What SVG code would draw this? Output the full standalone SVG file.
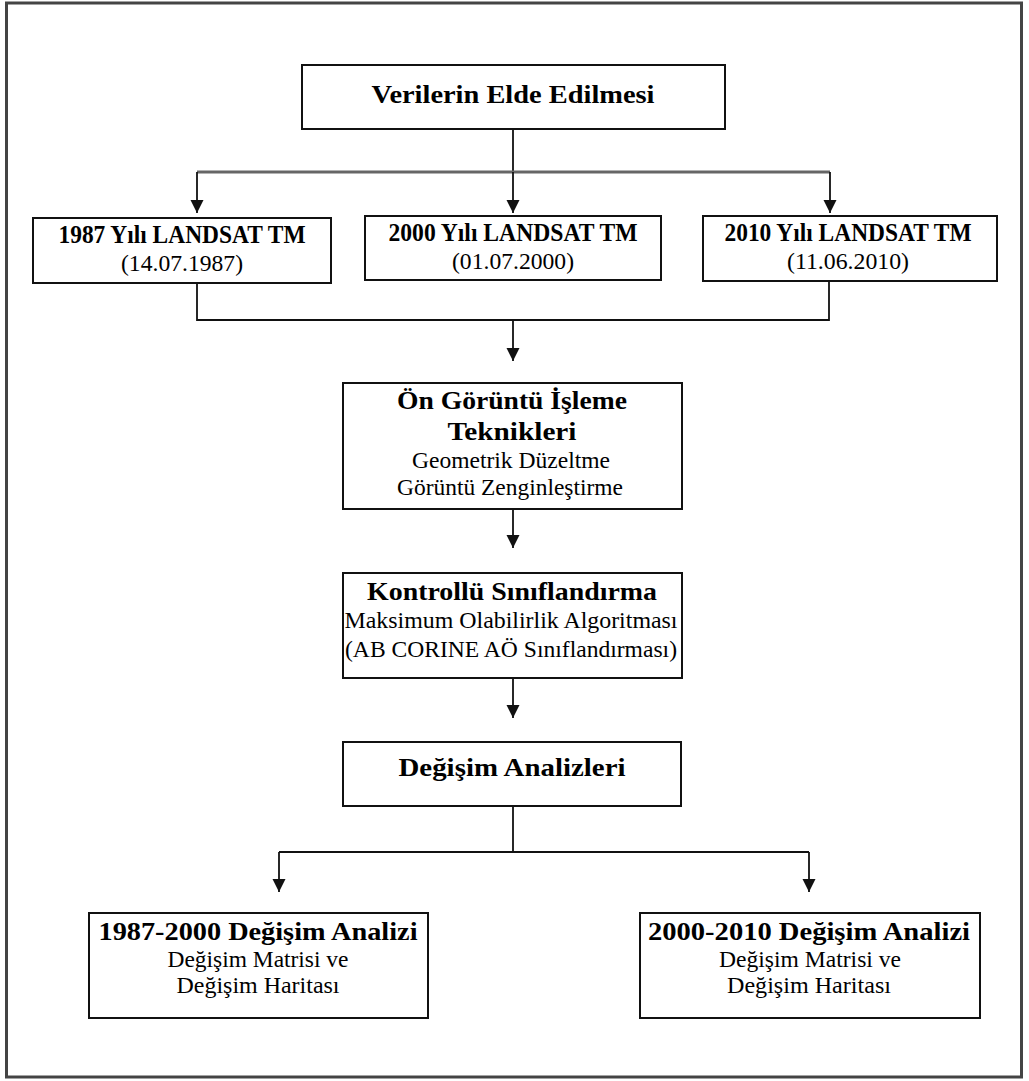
<svg xmlns="http://www.w3.org/2000/svg" width="1029" height="1081" viewBox="0 0 1029 1081">
  <style>
    .frame { fill: #fff; stroke: #444; stroke-width: 3; }
    .box { fill: #fff; stroke: #111; stroke-width: 2; }
    .link { fill: none; stroke: #111; stroke-width: 1.8; }
    .bus { fill: none; stroke: #666; stroke-width: 3; }
    .t { font-family: "Liberation Serif", "Times New Roman", serif; fill: #000; text-anchor: middle; }
    .b { font-weight: bold; font-size: 26px; }
    .n { font-size: 23px; }
  </style>
  <defs>
    <marker id="head" markerUnits="userSpaceOnUse" markerWidth="14" markerHeight="14" viewBox="0 0 14 14" refX="13" refY="7" orient="auto">
      <path d="M0,0.5 L13,7 L0,13.5 Z" fill="#111"/>
    </marker>
  </defs>

  <!-- outer frame -->
  <rect class="frame" x="6.5" y="3" width="1015" height="1074"/>

  <!-- connectors -->
  <g id="connectors">
    <path class="link" d="M513,129 V172"/>
    <path class="bus" d="M197,172 H830"/>
    <path class="link" d="M197,172 V213" marker-end="url(#head)"/>
    <path class="link" d="M513,172 V213" marker-end="url(#head)"/>
    <path class="link" d="M830,172 V213" marker-end="url(#head)"/>
    <path class="link" d="M197,283 V320 H829 V281"/>
    <path class="link" d="M513,320 V361" marker-end="url(#head)"/>
    <path class="link" d="M513,509 V548" marker-end="url(#head)"/>
    <path class="link" d="M513,678 V718" marker-end="url(#head)"/>
    <path class="link" d="M513,806 V852"/>
    <path class="link" d="M279,852 H809"/>
    <path class="link" d="M279,852 V892" marker-end="url(#head)"/>
    <path class="link" d="M809,852 V892" marker-end="url(#head)"/>
  </g>

  <g id="veri">
    <rect class="box" x="302" y="65" width="423" height="64"/>
    <text class="t b" x="513" y="103" textLength="283" lengthAdjust="spacingAndGlyphs">Verilerin Elde Edilmesi</text>
  </g>

  <g id="landsat1987">
    <rect class="box" x="33" y="218" width="298" height="65"/>
    <text class="t b" x="182" y="243" textLength="247" lengthAdjust="spacingAndGlyphs">1987 Yılı LANDSAT TM</text>
    <text class="t n" x="182" y="271" textLength="122" lengthAdjust="spacingAndGlyphs">(14.07.1987)</text>
  </g>

  <g id="landsat2000">
    <rect class="box" x="365" y="216" width="296" height="64"/>
    <text class="t b" x="513" y="241" textLength="249" lengthAdjust="spacingAndGlyphs">2000 Yılı LANDSAT TM</text>
    <text class="t n" x="513" y="269" textLength="122" lengthAdjust="spacingAndGlyphs">(01.07.2000)</text>
  </g>

  <g id="landsat2010">
    <rect class="box" x="703" y="216" width="294" height="65"/>
    <text class="t b" x="848" y="241" textLength="247" lengthAdjust="spacingAndGlyphs">2010 Yılı LANDSAT TM</text>
    <text class="t n" x="848" y="269" textLength="122" lengthAdjust="spacingAndGlyphs">(11.06.2010)</text>
  </g>

  <g id="on-isleme">
    <rect class="box" x="343" y="383" width="339" height="126"/>
    <text class="t b" x="512" y="409" textLength="230" lengthAdjust="spacingAndGlyphs">Ön Görüntü İşleme</text>
    <text class="t b" x="512" y="440" textLength="129" lengthAdjust="spacingAndGlyphs">Teknikleri</text>
    <text class="t n" x="511" y="468" textLength="198" lengthAdjust="spacingAndGlyphs">Geometrik Düzeltme</text>
    <text class="t n" x="510" y="495" textLength="226" lengthAdjust="spacingAndGlyphs">Görüntü Zenginleştirme</text>
  </g>

  <g id="siniflandirma">
    <rect class="box" x="343" y="573" width="339" height="105"/>
    <text class="t b" x="512" y="600" textLength="290" lengthAdjust="spacingAndGlyphs">Kontrollü Sınıflandırma</text>
    <text class="t n" x="511" y="628" textLength="333" lengthAdjust="spacingAndGlyphs">Maksimum Olabilirlik Algoritması</text>
    <text class="t n" x="511" y="657" textLength="332" lengthAdjust="spacingAndGlyphs">(AB CORINE AÖ Sınıflandırması)</text>
  </g>

  <g id="degisim">
    <rect class="box" x="343" y="742" width="338" height="64"/>
    <text class="t b" x="512" y="776" textLength="227" lengthAdjust="spacingAndGlyphs">Değişim Analizleri</text>
  </g>

  <g id="analiz-1987-2000">
    <rect class="box" x="89" y="913" width="339" height="105"/>
    <text class="t b" x="258" y="940" textLength="319" lengthAdjust="spacingAndGlyphs">1987-2000 Değişim Analizi</text>
    <text class="t n" x="258" y="967" textLength="181" lengthAdjust="spacingAndGlyphs">Değişim Matrisi ve</text>
    <text class="t n" x="258" y="993" textLength="163" lengthAdjust="spacingAndGlyphs">Değişim Haritası</text>
  </g>

  <g id="analiz-2000-2010">
    <rect class="box" x="640" y="913" width="340" height="105"/>
    <text class="t b" x="809" y="940" textLength="322" lengthAdjust="spacingAndGlyphs">2000-2010 Değişim Analizi</text>
    <text class="t n" x="810" y="967" textLength="182" lengthAdjust="spacingAndGlyphs">Değişim Matrisi ve</text>
    <text class="t n" x="809" y="993" textLength="164" lengthAdjust="spacingAndGlyphs">Değişim Haritası</text>
  </g>
</svg>
